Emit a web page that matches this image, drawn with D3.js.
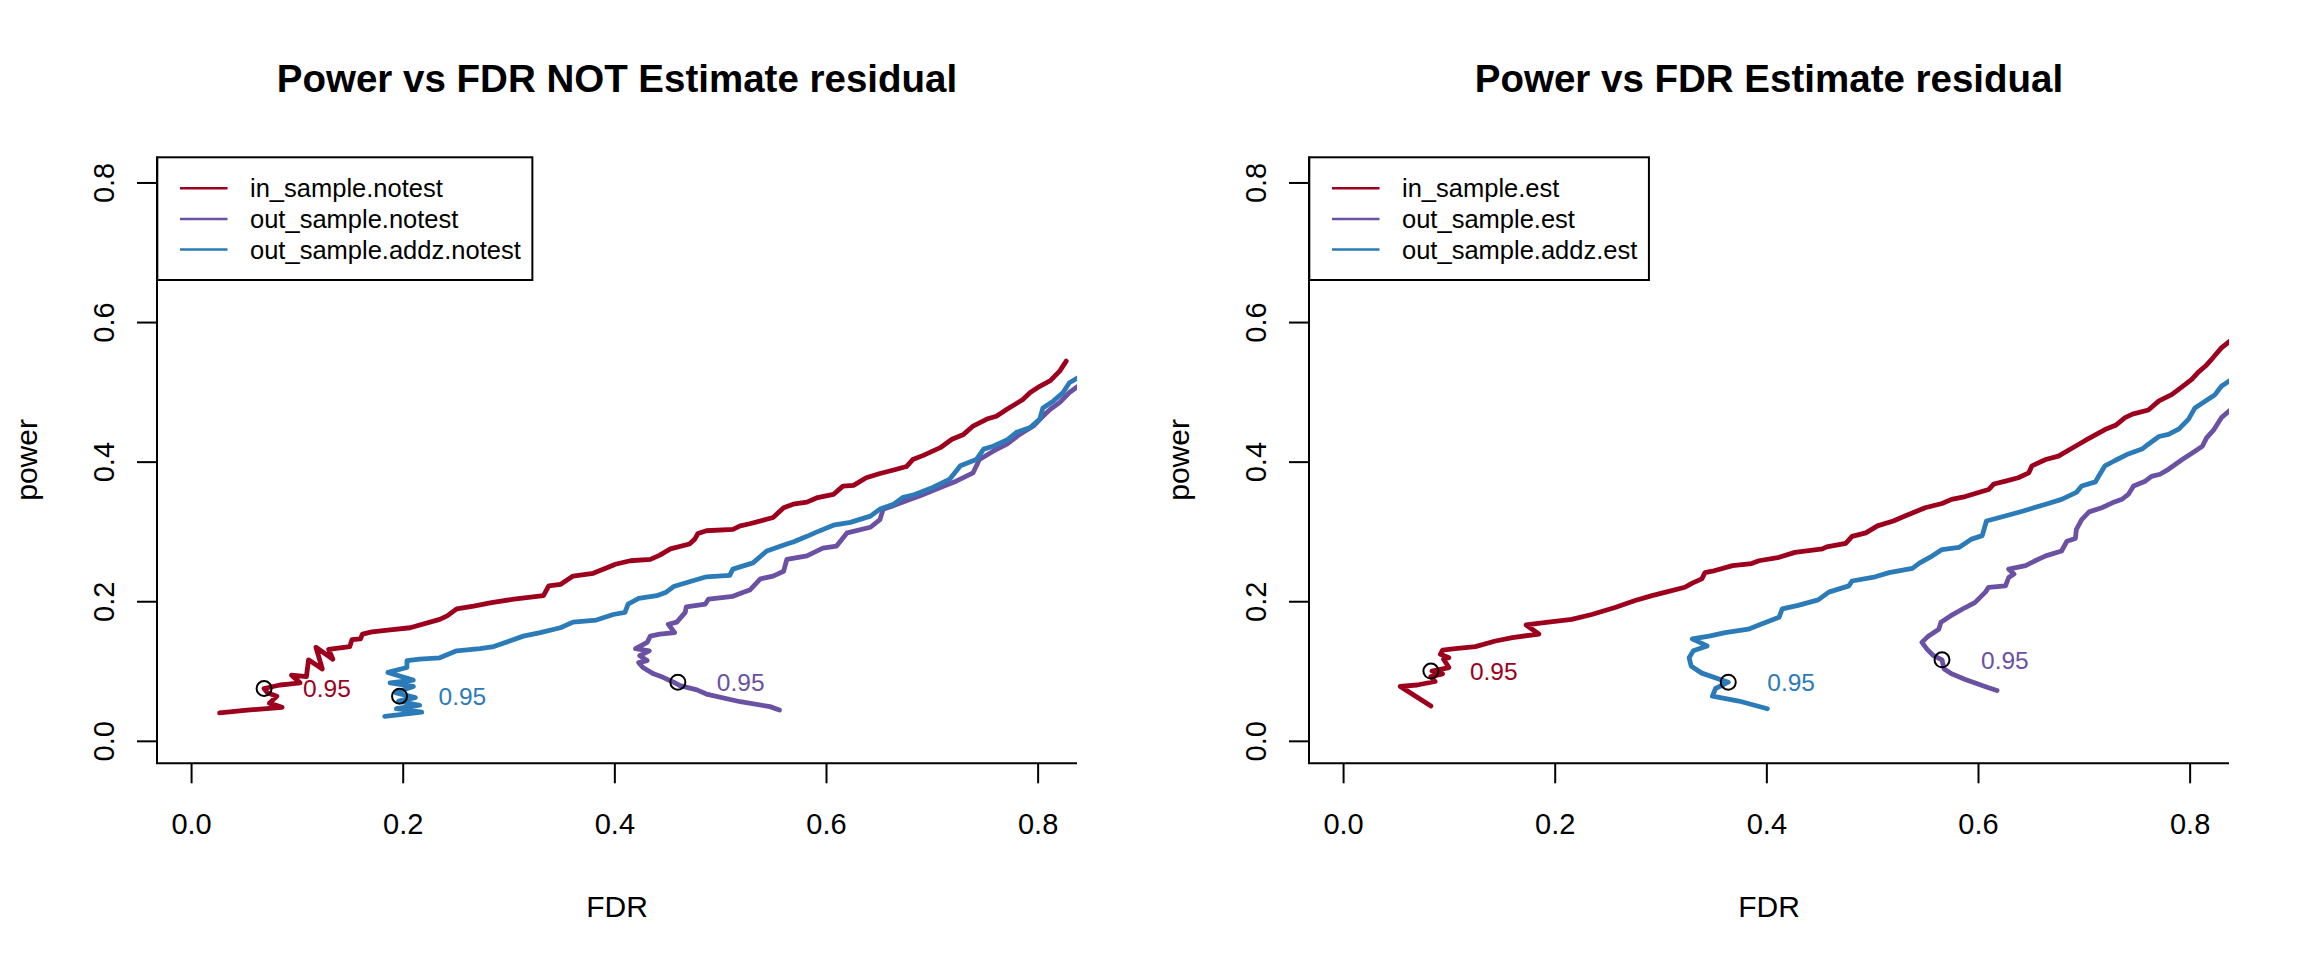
<!DOCTYPE html>
<html>
<head>
<meta charset="utf-8">
<script src="https://cdn.jsdelivr.net/npm/d3@7"></script>
<style>
  body { margin: 0; background: #fff; }
  text { font-family: "Liberation Sans", Arial, Helvetica, sans-serif; }
</style>
</head>
<body>
<div id="chart"></div>
<script>
// axis ticks (both axes share the same limits)
const fdrTicks = [0, 0.2, 0.4, 0.6, 0.8];
const powerTicks = [0, 0.2, 0.4, 0.6, 0.8];

const titles = ["Power vs FDR NOT Estimate residual", "Power vs FDR Estimate residual"];
const legendNotest = ["in_sample.notest", "out_sample.notest", "out_sample.addz.notest"];
const legendEst = ["in_sample.est", "out_sample.est", "out_sample.addz.est"];
const seriesColors = ["#9C001C", "#6A51A3", "#2B7BB8"];
const cutoffLabel = "0.95";

// [FDR, power] pairs, in drawing order
const inSampleNotest = [[0.027,0.040],[0.053,0.044],[0.086,0.048],[0.074,0.054],[0.081,0.064],[0.072,0.069],[0.069,0.075],[0.084,0.080],[0.090,0.081],[0.103,0.083],[0.095,0.094],[0.109,0.092],[0.111,0.116],[0.124,0.103],[0.118,0.134],[0.134,0.117],[0.130,0.131],[0.150,0.135],[0.152,0.145],[0.160,0.146],[0.162,0.153],[0.171,0.156],[0.188,0.159],[0.207,0.162],[0.235,0.174],[0.242,0.179],[0.251,0.189],[0.267,0.193],[0.284,0.198],[0.305,0.203],[0.333,0.208],[0.338,0.222],[0.349,0.224],[0.361,0.236],[0.380,0.240],[0.393,0.248],[0.401,0.253],[0.415,0.258],[0.434,0.260],[0.443,0.266],[0.453,0.275],[0.471,0.282],[0.476,0.289],[0.479,0.297],[0.487,0.301],[0.512,0.303],[0.519,0.308],[0.528,0.311],[0.550,0.320],[0.560,0.334],[0.569,0.339],[0.582,0.342],[0.591,0.348],[0.607,0.353],[0.616,0.365],[0.626,0.366],[0.638,0.377],[0.651,0.383],[0.664,0.388],[0.676,0.393],[0.682,0.403],[0.692,0.409],[0.708,0.420],[0.719,0.432],[0.730,0.439],[0.739,0.451],[0.752,0.461],[0.761,0.465],[0.771,0.475],[0.786,0.489],[0.793,0.499],[0.802,0.508],[0.812,0.516],[0.821,0.530],[0.827,0.544]];
const outSampleNotest = [[0.556,0.044],[0.547,0.049],[0.519,0.056],[0.487,0.067],[0.478,0.073],[0.462,0.079],[0.456,0.084],[0.446,0.091],[0.437,0.096],[0.427,0.105],[0.423,0.112],[0.431,0.115],[0.424,0.122],[0.433,0.129],[0.420,0.132],[0.431,0.141],[0.434,0.150],[0.443,0.153],[0.457,0.155],[0.451,0.167],[0.459,0.170],[0.467,0.184],[0.468,0.192],[0.486,0.196],[0.489,0.203],[0.512,0.207],[0.522,0.213],[0.528,0.216],[0.538,0.232],[0.550,0.236],[0.560,0.243],[0.563,0.260],[0.582,0.265],[0.597,0.276],[0.610,0.279],[0.620,0.298],[0.642,0.306],[0.651,0.317],[0.654,0.332],[0.664,0.337],[0.676,0.344],[0.689,0.351],[0.708,0.363],[0.723,0.372],[0.739,0.384],[0.745,0.403],[0.758,0.415],[0.771,0.425],[0.783,0.439],[0.796,0.451],[0.805,0.465],[0.812,0.475],[0.821,0.485],[0.830,0.499],[0.840,0.510]];
const addzNotest = [[0.183,0.035],[0.218,0.041],[0.194,0.046],[0.216,0.051],[0.196,0.057],[0.212,0.062],[0.193,0.069],[0.210,0.078],[0.188,0.083],[0.210,0.087],[0.186,0.098],[0.204,0.105],[0.204,0.115],[0.216,0.117],[0.235,0.119],[0.251,0.129],[0.273,0.132],[0.286,0.135],[0.301,0.143],[0.314,0.150],[0.330,0.155],[0.349,0.162],[0.361,0.170],[0.383,0.173],[0.399,0.181],[0.410,0.184],[0.413,0.196],[0.423,0.204],[0.440,0.208],[0.449,0.213],[0.456,0.221],[0.471,0.228],[0.487,0.235],[0.509,0.237],[0.512,0.246],[0.531,0.255],[0.544,0.272],[0.563,0.282],[0.569,0.285],[0.582,0.293],[0.591,0.299],[0.607,0.309],[0.623,0.313],[0.642,0.322],[0.651,0.332],[0.664,0.339],[0.673,0.349],[0.682,0.352],[0.701,0.363],[0.717,0.375],[0.727,0.394],[0.742,0.403],[0.749,0.418],[0.758,0.422],[0.771,0.431],[0.780,0.442],[0.793,0.449],[0.802,0.461],[0.805,0.477],[0.815,0.487],[0.824,0.499],[0.830,0.513],[0.840,0.522]];
const cutoffNotest = [[0.069,0.075],[0.460,0.084],[0.197,0.064]];

const inSampleEst = [[0.083,0.050],[0.054,0.078],[0.070,0.080],[0.087,0.085],[0.083,0.092],[0.094,0.096],[0.084,0.100],[0.100,0.105],[0.095,0.117],[0.100,0.119],[0.092,0.124],[0.094,0.130],[0.106,0.132],[0.125,0.135],[0.144,0.143],[0.160,0.148],[0.185,0.153],[0.173,0.166],[0.194,0.170],[0.216,0.174],[0.235,0.181],[0.257,0.191],[0.276,0.201],[0.292,0.208],[0.305,0.213],[0.323,0.220],[0.330,0.226],[0.339,0.232],[0.342,0.241],[0.349,0.243],[0.368,0.251],[0.386,0.254],[0.393,0.258],[0.412,0.263],[0.427,0.270],[0.453,0.275],[0.457,0.278],[0.475,0.283],[0.481,0.293],[0.494,0.298],[0.505,0.308],[0.520,0.315],[0.531,0.322],[0.550,0.334],[0.566,0.340],[0.575,0.346],[0.588,0.350],[0.610,0.360],[0.615,0.368],[0.626,0.372],[0.638,0.377],[0.648,0.384],[0.651,0.394],[0.664,0.403],[0.676,0.408],[0.692,0.422],[0.701,0.430],[0.720,0.446],[0.730,0.452],[0.739,0.463],[0.746,0.468],[0.761,0.474],[0.771,0.487],[0.783,0.496],[0.790,0.504],[0.802,0.518],[0.808,0.528],[0.815,0.537],[0.821,0.547],[0.830,0.563],[0.840,0.575]];
const outSampleEst = [[0.618,0.072],[0.610,0.076],[0.588,0.088],[0.575,0.096],[0.568,0.103],[0.566,0.116],[0.558,0.122],[0.552,0.131],[0.547,0.141],[0.553,0.150],[0.563,0.160],[0.565,0.170],[0.574,0.179],[0.588,0.191],[0.597,0.198],[0.607,0.213],[0.610,0.220],[0.626,0.222],[0.629,0.234],[0.634,0.239],[0.629,0.246],[0.645,0.251],[0.654,0.258],[0.664,0.265],[0.679,0.272],[0.684,0.286],[0.692,0.290],[0.693,0.303],[0.698,0.317],[0.705,0.328],[0.717,0.334],[0.727,0.341],[0.736,0.346],[0.742,0.353],[0.747,0.365],[0.758,0.372],[0.764,0.379],[0.772,0.382],[0.780,0.389],[0.793,0.403],[0.805,0.415],[0.812,0.422],[0.816,0.434],[0.823,0.446],[0.830,0.463],[0.840,0.476]];
const addzEst = [[0.401,0.046],[0.374,0.057],[0.349,0.064],[0.352,0.075],[0.364,0.084],[0.339,0.097],[0.329,0.107],[0.327,0.119],[0.331,0.129],[0.344,0.136],[0.330,0.146],[0.346,0.150],[0.361,0.155],[0.383,0.160],[0.393,0.166],[0.412,0.177],[0.415,0.189],[0.430,0.194],[0.449,0.202],[0.459,0.213],[0.478,0.222],[0.481,0.229],[0.503,0.235],[0.516,0.241],[0.538,0.247],[0.545,0.255],[0.557,0.265],[0.566,0.274],[0.582,0.277],[0.594,0.289],[0.604,0.294],[0.608,0.315],[0.623,0.321],[0.642,0.329],[0.664,0.339],[0.679,0.346],[0.693,0.356],[0.698,0.365],[0.711,0.371],[0.714,0.379],[0.720,0.394],[0.730,0.402],[0.742,0.411],[0.755,0.418],[0.761,0.425],[0.771,0.436],[0.780,0.439],[0.790,0.447],[0.799,0.461],[0.805,0.477],[0.815,0.487],[0.824,0.496],[0.830,0.508],[0.840,0.518]];
const cutoffEst = [[0.083,0.100],[0.566,0.116],[0.364,0.084]];

const svgwidth = 2304, svgheight = 960;
const svg = d3.select("#chart").append("svg")
  .attr("width", svgwidth)
  .attr("height", svgheight);
svg.append("rect").attr("width", svgwidth).attr("height", svgheight).attr("fill", "#fff");

// R style limits: c(0, 0.805) padded by 4% on each side
const lim = [-0.0322, 0.8372];
const plotLeft = 157, plotRight = 1077, plotTop = 156.5, plotBottom = 763.3;

function drawPanel(offsetX, title, legendNames, series, cutoffs, idx) {
  const g = svg.append("g").attr("transform", `translate(${offsetX},0)`);
  const x = d3.scaleLinear().domain(lim).range([plotLeft, plotRight]);
  const y = d3.scaleLinear().domain(lim).range([plotBottom, plotTop]);

  // title
  g.append("text")
    .attr("x", (plotLeft + plotRight) / 2).attr("y", 92)
    .attr("text-anchor", "middle")
    .attr("font-size", "38.5px").attr("font-weight", "bold")
    .text(title);

  // clip to plot region
  const clipId = "clip" + idx;
  g.append("clipPath").attr("id", clipId)
    .append("rect")
    .attr("x", plotLeft).attr("y", plotTop)
    .attr("width", plotRight - plotLeft).attr("height", plotBottom - plotTop);

  // x axis
  const xaxis = d3.axisBottom(x).tickValues(fdrTicks).tickSize(20).tickFormat(d3.format(".1f"));
  const gx = g.append("g").attr("transform", `translate(0,${plotBottom})`).call(xaxis);
  gx.select(".domain").remove();
  gx.selectAll(".tick line").attr("stroke", "#000").attr("stroke-width", 2);
  gx.selectAll(".tick text")
    .attr("y", 71).attr("dy", null)
    .attr("font-size", "29px").attr("fill", "#000")
    .attr("font-family", "Liberation Sans, Arial, sans-serif");

  // y axis
  const yaxis = d3.axisLeft(y).tickValues(powerTicks).tickSize(20).tickFormat(d3.format(".1f"));
  const gy = g.append("g").attr("transform", `translate(${plotLeft},0)`).call(yaxis);
  gy.select(".domain").remove();
  gy.selectAll(".tick line").attr("stroke", "#000").attr("stroke-width", 2);
  gy.selectAll(".tick text")
    .attr("x", 0).attr("y", 0).attr("dy", null)
    .attr("text-anchor", "middle")
    .attr("transform", "translate(-43,0) rotate(-90)")
    .attr("font-size", "29px").attr("fill", "#000")
    .attr("font-family", "Liberation Sans, Arial, sans-serif");

  // L shaped box
  g.append("path")
    .attr("d", `M${plotLeft},${plotTop}V${plotBottom}H${plotRight}`)
    .attr("fill", "none").attr("stroke", "#000").attr("stroke-width", 2);

  // axis labels
  g.append("text")
    .attr("x", (plotLeft + plotRight) / 2).attr("y", 917)
    .attr("text-anchor", "middle").attr("font-size", "30px")
    .text("FDR");
  g.append("text")
    .attr("transform", `translate(37,${(plotTop + plotBottom) / 2}) rotate(-90)`)
    .attr("text-anchor", "middle").attr("font-size", "30px")
    .text("power");

  // curves
  const line = d3.line().x(d => x(d[0])).y(d => y(d[1]));
  const lines = g.append("g").attr("clip-path", `url(#${clipId})`);
  series.forEach((s, i) => {
    lines.append("path")
      .datum(s)
      .attr("d", line)
      .attr("fill", "none")
      .attr("stroke", seriesColors[i])
      .attr("stroke-width", 4.8)
      .attr("stroke-linejoin", "round")
      .attr("stroke-linecap", "round");
  });

  // 0.95 cutoff points
  g.selectAll(".cut")
    .data(cutoffs)
    .enter()
    .append("circle")
    .attr("cx", d => x(d[0]))
    .attr("cy", d => y(d[1]))
    .attr("r", 7.5)
    .attr("fill", "none")
    .attr("stroke", "#000")
    .attr("stroke-width", 2);

  g.selectAll(".cutlab")
    .data(cutoffs)
    .enter()
    .append("text")
    .attr("x", d => x(d[0]) + 39)
    .attr("y", d => y(d[1]))
    .attr("dy", "0.36em")
    .attr("font-size", "24.5px")
    .attr("fill", (d, i) => seriesColors[i])
    .text(cutoffLabel);

  // legend
  const leg = g.append("g");
  const legBox = leg.append("rect")
    .attr("x", 157.3).attr("y", 157.3)
    .attr("height", 280 - 157.3)
    .attr("fill", "#fff").attr("stroke", "#000").attr("stroke-width", 2);
  const rowY = [188.3, 219, 249.5];
  let maxW = 0;
  legendNames.forEach((name, i) => {
    leg.append("line")
      .attr("x1", 180).attr("x2", 227.5)
      .attr("y1", rowY[i]).attr("y2", rowY[i])
      .attr("stroke", seriesColors[i]).attr("stroke-width", 2.4);
    const t = leg.append("text")
      .attr("x", 250).attr("y", rowY[i]).attr("dy", "0.36em")
      .attr("font-size", "25.5px")
      .text(name);
    maxW = Math.max(maxW, t.node().getComputedTextLength());
  });
  legBox.attr("width", 250 + maxW + 11.6 - 157.3);
}

drawPanel(0, titles[0], legendNotest, [inSampleNotest, outSampleNotest, addzNotest], cutoffNotest, 0);
drawPanel(1152, titles[1], legendEst, [inSampleEst, outSampleEst, addzEst], cutoffEst, 1);
</script>
</body>
</html>
